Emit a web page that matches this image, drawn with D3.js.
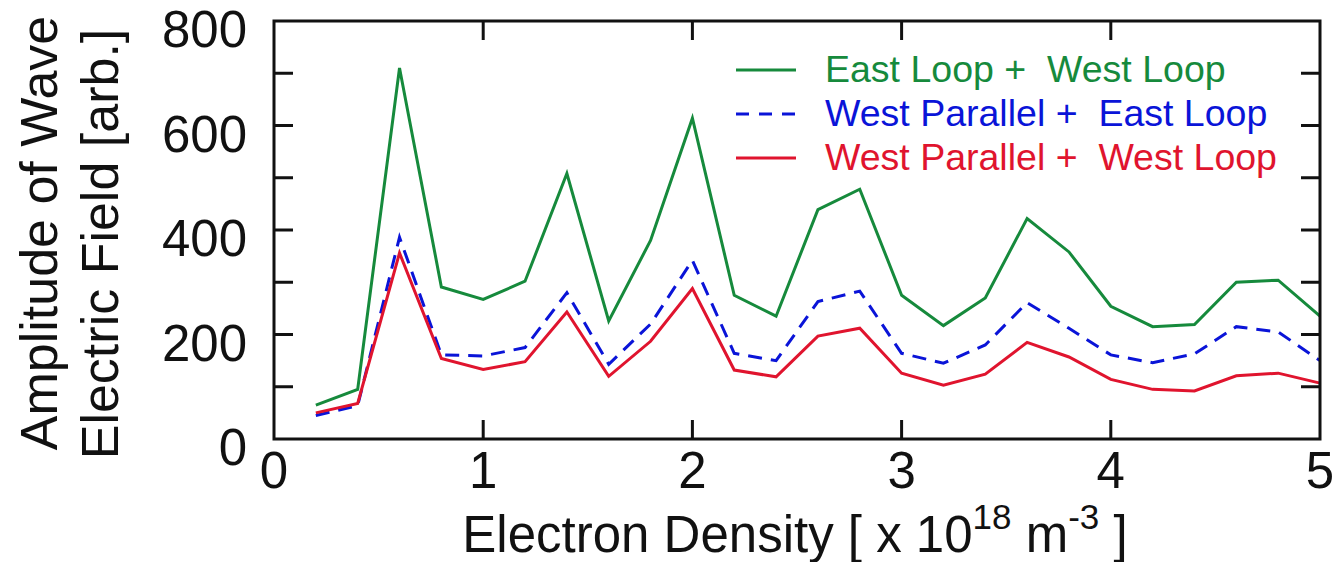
<!DOCTYPE html>
<html>
<head>
<meta charset="utf-8">
<script src="https://cdn.jsdelivr.net/npm/d3@7"></script>
<style>
  html, body { margin: 0; padding: 0; background: #fff; }
  svg { display: block; font-family: "Liberation Sans", Arial, sans-serif; }
</style>
</head>
<body>
<svg id="chart" width="1335" height="562"></svg>
<script>
// ---- data ----
const density = [0.2,0.4,0.6,0.8,1.0,1.2,1.4,1.6,1.8,2.0,2.2,2.4,2.6,2.8,3.0,3.2,3.4,3.6,3.8,4.0,4.2,4.4,4.6,4.8,5.0];
const eastWest = [65,95,710,291,267,302,508,226,380,614,275,235,439,478,275,217,270,422,358,254,215,219,300,304,235];
const westParEast = [45,64,386,161,159,175,280,143,220,342,164,150,263,283,164,145,180,261,212,161,146,163,215,205,150];
const westParWest = [50,68,356,154,133,148,243,120,187,288,132,119,197,212,126,103,124,185,157,114,95,92,121,126,107];
const seriesNames = ["East Loop +  West Loop", "West Parallel +  East Loop", "West Parallel +  West Loop"];
const seriesColors = ["#168a3c", "#0a14d8", "#e0142e"];
const xTicks = [0,1,2,3,4,5];
const yTicks = [0,200,400,600,800];
const yMinorTicks = [100,300,500,700];

// ---- layout ----
const svg = d3.select("#chart");
const L = 274, R = 1320, T = 21, B = 439;
const x = d3.scaleLinear().domain([0,5]).range([L,R]);
const y = d3.scaleLinear().domain([0,800]).range([B,T]);
const tickLen = 19;

// ticks (inward)
const g = svg.append("g");
const allY = yTicks.concat(yMinorTicks).filter(v => v > 0 && v < 800);
g.selectAll(".ytl").data(allY).join("line")
  .attr("x1", L).attr("x2", L + tickLen).attr("y1", d => y(d)).attr("y2", d => y(d))
  .attr("stroke", "#111").attr("stroke-width", 3);
g.selectAll(".ytr").data(allY).join("line")
  .attr("x1", R).attr("x2", R - tickLen).attr("y1", d => y(d)).attr("y2", d => y(d))
  .attr("stroke", "#111").attr("stroke-width", 3);
const innerX = xTicks.filter(v => v > 0 && v < 5);
g.selectAll(".xtb").data(innerX).join("line")
  .attr("x1", d => x(d)).attr("x2", d => x(d)).attr("y1", B).attr("y2", B - tickLen)
  .attr("stroke", "#111").attr("stroke-width", 3);
g.selectAll(".xtt").data(innerX).join("line")
  .attr("x1", d => x(d)).attr("x2", d => x(d)).attr("y1", T).attr("y2", T + tickLen)
  .attr("stroke", "#111").attr("stroke-width", 3);

// tick labels
g.selectAll(".ylab").data(yTicks).join("text")
  .attr("x", 247).attr("y", d => y(d) + 26)
  .attr("text-anchor", "end").attr("font-size", 51).attr("fill", "#111")
  .text(d => d);
g.selectAll(".xlab").data(xTicks).join("text")
  .attr("x", d => x(d)).attr("y", 488)
  .attr("text-anchor", "middle").attr("font-size", 51).attr("fill", "#111")
  .text(d => d);

// lines
const line = d3.line().x((d,i) => x(density[i])).y(d => y(d));
const allSeries = [eastWest, westParEast, westParWest];
allSeries.forEach((s, k) => {
  svg.append("path").datum(s)
    .attr("d", line)
    .attr("fill", "none")
    .attr("stroke", seriesColors[k])
    .attr("stroke-width", 3)
    .attr("stroke-linejoin", "miter")
    .attr("stroke-dasharray", k === 1 ? "14,9" : null);
});

// frame
svg.append("rect").attr("x", L).attr("y", T).attr("width", R - L).attr("height", B - T)
  .attr("fill", "none").attr("stroke", "#111").attr("stroke-width", 3);

// legend
const legY = [70, 114, 158];
seriesNames.forEach((name, k) => {
  svg.append("line")
    .attr("x1", 736).attr("x2", 796).attr("y1", legY[k]).attr("y2", legY[k])
    .attr("stroke", seriesColors[k]).attr("stroke-width", 3)
    .attr("stroke-dasharray", k === 1 ? "13,10" : null);
  svg.append("text")
    .attr("x", 825).attr("y", legY[k] + 12)
    .attr("font-size", 37.5).attr("fill", seriesColors[k])
    .attr("xml:space", "preserve")
    .style("white-space", "pre")
    .text(name);
});

// x axis title
const xt = svg.append("text")
  .attr("x", 795).attr("y", 552).attr("text-anchor", "middle")
  .attr("font-size", 51).attr("fill", "#111")
  .style("white-space", "pre");
xt.append("tspan").text("Electron Density [ x 10");
xt.append("tspan").attr("font-size", 35).attr("dy", -23).text("18");
xt.append("tspan").attr("dy", 23).text(" m");
xt.append("tspan").attr("font-size", 35).attr("dy", -23).text("-3");
xt.append("tspan").attr("dy", 23).text(" ]");

// y axis title
svg.append("text")
  .attr("transform", "translate(57,233) rotate(-90)")
  .attr("text-anchor", "middle").attr("font-size", 52).attr("fill", "#111")
  .text("Amplitude of Wave");
svg.append("text")
  .attr("transform", "translate(118,244) rotate(-90)")
  .attr("text-anchor", "middle").attr("font-size", 52).attr("fill", "#111")
  .text("Electric Field [arb.]");
</script>
</body>
</html>
